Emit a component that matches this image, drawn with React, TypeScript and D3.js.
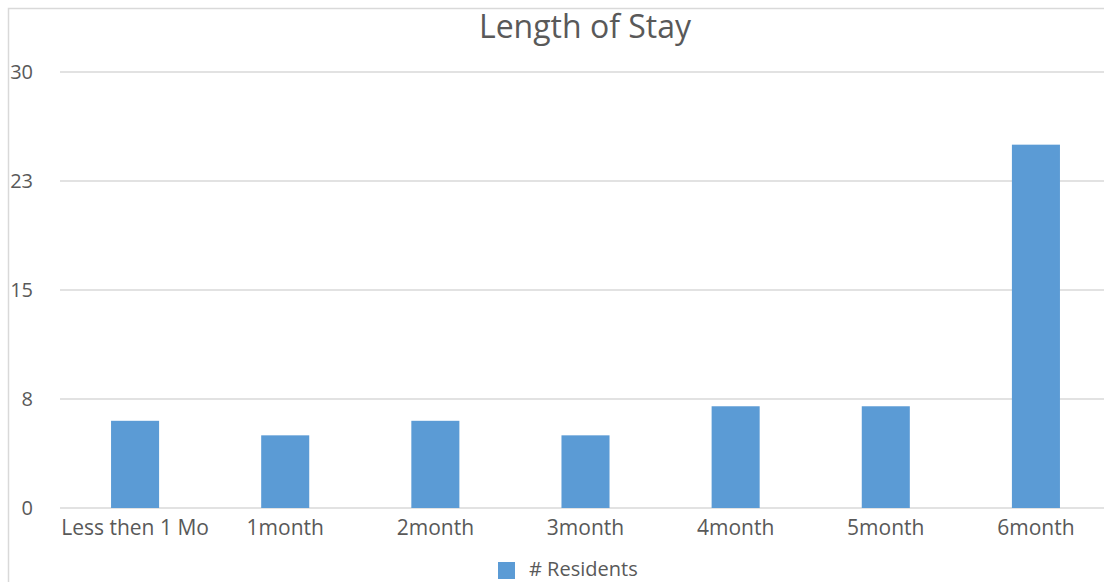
import { useMemo } from "react";
import * as d3 from "d3";

const categories = ["Less then 1 Mo", "1month", "2month", "3month", "4month", "5month", "6month"];
const residents = [6, 5, 6, 5, 7, 7, 25];
const yTicks = [0, 7.5, 15, 22.5, 30];
const seriesName = "# Residents";
const title = "Length of Stay";

const W = 1104;
const H = 582;
const FONT = "'Open Sans', 'Noto Sans', sans-serif";

export default function App() {
  const x = useMemo(
    () => d3.scaleBand<string>().domain(categories).range([60, 1111]).paddingInner(0.68).paddingOuter(0.34),
    [],
  );
  const y = useMemo(() => d3.scaleLinear().domain([0, 30]).range([508, 72]), []);

  return (
    <svg
      width={W}
      height={H}
      style={{ position: "absolute", left: 0, top: 0, background: "#fff" }}
      fontFamily={FONT}
    >
      <rect x={8.5} y={8.5} width={W + 20} height={H + 20} fill="#fff" stroke="#d9d9d9" strokeWidth={1.5} />
      <text x={585} y={38} textAnchor="middle" fontSize={32} fill="#595959">
        {title}
      </text>
      {yTicks.map((t) => (
        <g key={t}>
          <line x1={60} x2={1111} y1={y(t)} y2={y(t)} stroke="#d9d9d9" strokeWidth={1.5} />
          <text x={33} y={y(t)} dy="0.35em" textAnchor="end" fontSize={20} fill="#595959">
            {d3.format(".0f")(Math.round(t))}
          </text>
        </g>
      ))}
      {categories.map((c, i) => (
        <rect
          key={c}
          x={x(c)}
          y={y(residents[i])}
          width={x.bandwidth()}
          height={y(0) - y(residents[i])}
          fill="#5b9bd5"
        />
      ))}
      {categories.map((c) => (
        <text
          key={c}
          x={(x(c) ?? 0) + x.bandwidth() / 2}
          y={528}
          dy="0.35em"
          textAnchor="middle"
          fontSize={21}
          fill="#595959"
        >
          {c}
        </text>
      ))}
      <rect x={498} y={562} width={17} height={17} fill="#5b9bd5" />
      <text x={529} y={569} dy="0.35em" fontSize={20} fill="#595959">
        {seriesName}
      </text>
    </svg>
  );
}
